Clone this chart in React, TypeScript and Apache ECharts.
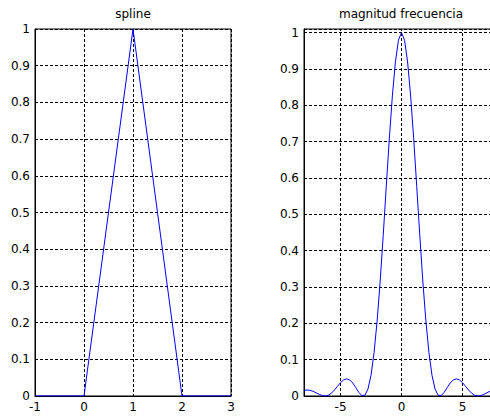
import React, { useEffect, useRef } from "react";
import * as echarts from "echarts";

// Left subplot: "spline"
const splineX = [-1, 0, 1, 2, 3];
const splineY = [0, 0, 1, 0, 0];

// Right subplot: "magnitud frecuencia"
const freqX = [
  -8, -7.75, -7.5, -7.25, -7, -6.75, -6.5, -6.25, -6, -5.75, -5.5, -5.25, -5, -4.75, -4.5, -4.25,
  -4, -3.75, -3.5, -3.25, -3, -2.75, -2.5, -2.25, -2, -1.75, -1.5, -1.25, -1, -0.75, -0.5, -0.25,
  0,
  0.25, 0.5, 0.75, 1, 1.25, 1.5, 1.75, 2, 2.25, 2.5, 2.75, 3, 3.25, 3.5, 3.75,
  4, 4.25, 4.5, 4.75, 5, 5.25, 5.5, 5.75, 6, 6.25, 6.5, 6.75, 7, 7.25, 7.5, 7.75, 8,
];
const freqMag = [
  0.0153, 0.0165, 0.0156, 0.0129, 0.0088, 0.0045, 0.0011, 0.0, 0.0022, 0.0078, 0.0165, 0.0268, 0.0368, 0.0443, 0.0472, 0.0444,
  0.0358, 0.0232, 0.01, 0.0011, 0.0022, 0.0193, 0.0573, 0.1196, 0.2067, 0.3162, 0.4422, 0.5764, 0.7081, 0.826, 0.9194, 0.9793,
  1.0,
  0.9793, 0.9194, 0.826, 0.7081, 0.5764, 0.4422, 0.3162, 0.2067, 0.1196, 0.0573, 0.0193, 0.0022, 0.0011, 0.01, 0.0232,
  0.0358, 0.0444, 0.0472, 0.0443, 0.0368, 0.0268, 0.0165, 0.0078, 0.0022, 0.0, 0.0011, 0.0045, 0.0088, 0.0129, 0.0156, 0.0165, 0.0153,
];

// Tick values
const splineXTicks = { min: -1, max: 3, interval: 1 };
const yTicks = { min: 0, interval: 0.1 };
const freqXTickLabels = [-5, 0, 5];

const titles = ["spline", "magnitud frecuencia"];

const FONT = "DejaVu Sans, Arial, sans-serif";
const DASH = [3, 2];

export default function App() {
  const ref = useRef<HTMLDivElement>(null);

  useEffect(() => {
    if (!ref.current) return;
    const chart = echarts.init(ref.current, undefined, { renderer: "svg" });

    const labelStyle = { color: "#000", fontSize: 12, fontFamily: FONT };
    const axisLine = { show: true, onZero: false, lineStyle: { color: "#000", width: 1 } };
    const splitLine = { show: true, lineStyle: { color: "#000", type: DASH, width: 1 } };
    const isTenth = (v: number) => Math.abs(v * 10 - Math.round(v * 10)) < 1e-6;

    chart.setOption({
      animation: false,
      backgroundColor: "#fff",
      graphic: [
        {
          type: "text",
          x: 133,
          y: 8,
          style: { text: titles[0], align: "center", verticalAlign: "top", fontSize: 12, fontFamily: FONT, fill: "#000" },
        },
        {
          type: "text",
          x: 401,
          y: 8,
          style: { text: titles[1], align: "center", verticalAlign: "top", fontSize: 12, fontFamily: FONT, fill: "#000" },
        },
      ],
      grid: [
        {
          left: 35, top: 29, width: 196, height: 367,
          show: true, borderColor: "#000", borderWidth: 1, backgroundColor: "#fff",
          outerBoundsMode: "none", containLabel: false,
        },
        {
          left: 304, top: 29, width: 195, height: 367,
          show: true, borderColor: "#000", borderWidth: 1, backgroundColor: "#fff",
          outerBoundsMode: "none", containLabel: false,
        },
      ],
      xAxis: [
        {
          type: "value",
          gridIndex: 0,
          min: splineXTicks.min,
          max: splineXTicks.max,
          interval: splineXTicks.interval,
          axisLine,
          axisTick: { show: false },
          axisLabel: { ...labelStyle, margin: 5 },
          splitLine,
        },
        {
          type: "value",
          gridIndex: 1,
          min: -8,
          max: 8,
          interval: 1,
          axisLine,
          axisTick: { show: false },
          axisLabel: {
            ...labelStyle,
            margin: 5,
            formatter: (v: number) => (freqXTickLabels.includes(v) ? String(v) : ""),
          },
          splitLine: { show: false },
        },
      ],
      yAxis: [
        {
          type: "value",
          gridIndex: 0,
          min: yTicks.min,
          max: 1,
          interval: yTicks.interval,
          axisLine,
          axisTick: { show: false },
          axisLabel: { ...labelStyle, margin: 5 },
          splitLine,
        },
        {
          type: "value",
          gridIndex: 1,
          min: yTicks.min,
          max: 1.01,
          interval: yTicks.interval,
          axisLine,
          axisTick: { show: false },
          axisLabel: {
            ...labelStyle,
            margin: 5,
            formatter: (v: number) => (isTenth(v) ? String(Math.round(v * 10) / 10) : ""),
          },
          splitLine,
        },
      ],
      series: [
        {
          type: "line",
          xAxisIndex: 0,
          yAxisIndex: 0,
          data: splineX.map((x, i) => [x, splineY[i]]),
          showSymbol: false,
          symbol: "none",
          lineStyle: { color: "#0000ff", width: 1 },
          itemStyle: { color: "#0000ff" },
          clip: true,
        },
        {
          type: "line",
          xAxisIndex: 1,
          yAxisIndex: 1,
          data: freqX.map((x, i) => [x, freqMag[i]]),
          showSymbol: false,
          symbol: "none",
          lineStyle: { color: "#0000ff", width: 1 },
          itemStyle: { color: "#0000ff" },
          clip: true,
          markLine: {
            silent: true,
            symbol: ["none", "none"],
            label: { show: false },
            lineStyle: { color: "#000", type: DASH, width: 1 },
            data: freqXTickLabels.map((v) => ({ xAxis: v })),
          },
        },
      ],
    });

    return () => chart.dispose();
  }, []);

  return (
    <div
      ref={ref}
      style={{ position: "fixed", left: 0, top: 0, width: 490, height: 419, background: "#fff" }}
    />
  );
}
